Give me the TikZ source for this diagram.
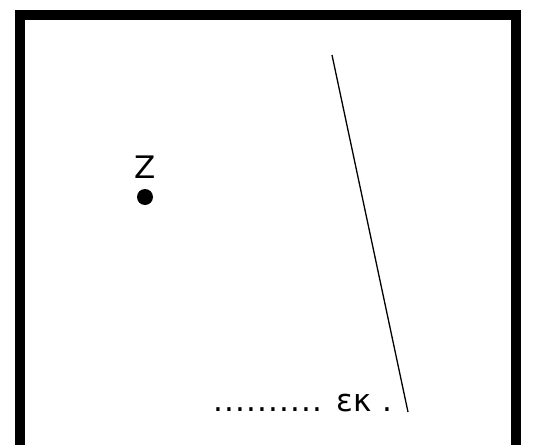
\documentclass[tikz,border=0pt]{standalone}
\usepackage{fontspec}
\setmainfont{DejaVu Sans}
\usetikzlibrary{positioning}

\newcommand\dotrow{\foreach \i in {1,...,10}{\makebox[11pt][l]{.}}}

\begin{document}
\begin{tikzpicture}[
    x=1pt, y=-1pt,
    frame/.style={draw=black, line width=10pt},
    point/.style={circle, fill=black, inner sep=0pt, minimum size=16pt},
    label/.style={font=\fontsize{31}{31}\selectfont, inner sep=0pt},
    edge/.style={draw=black, line width=1.3pt},
]
    \useasboundingbox (0,0) rectangle (542,445);
    \clip (0,0) rectangle (542,445);

    % frame, bottom side falls outside the picture
    \draw[frame] (20,15) rectangle (516,470);

    % the point and its name
    \node[point] (z) at (145,197) {};
    \node[label, above=10pt of z] (zname) {Z};

    % the slanted line
    \coordinate (top) at (332,55);
    \coordinate (bottom) at (408,412);
    \draw[edge] (top) -- (bottom);

    % text at the foot of the line
    \node[label, anchor=base west] (foot) at (213,411) {\dotrow\hspace{13pt}εκ\hspace{11pt}.};
\end{tikzpicture}
\end{document}
